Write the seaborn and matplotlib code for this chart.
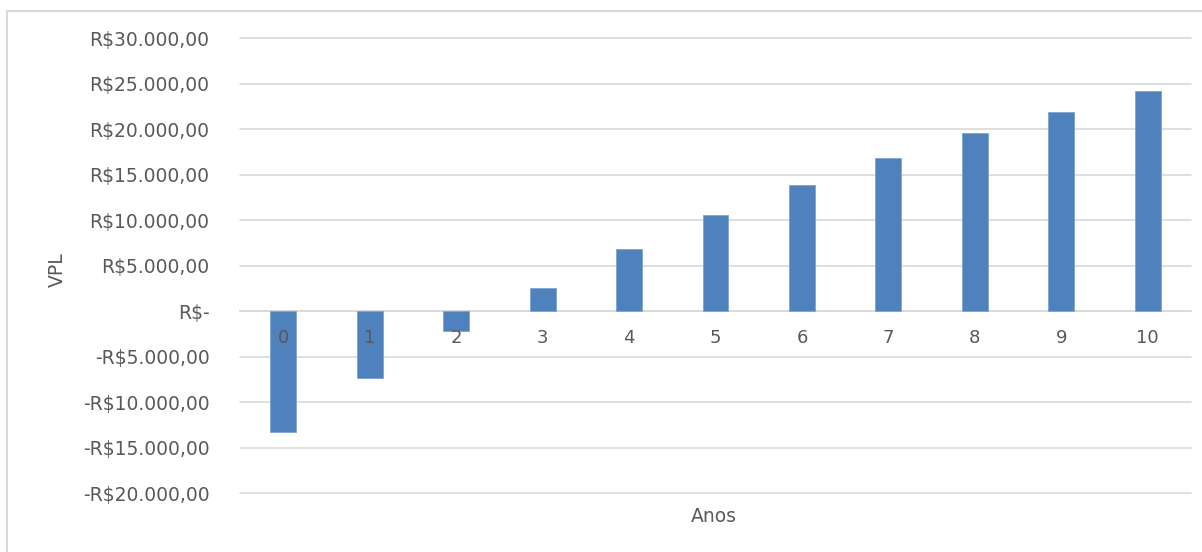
import matplotlib
matplotlib.use("Agg")
import matplotlib.pyplot as plt
from matplotlib.patches import Rectangle
from matplotlib.ticker import FuncFormatter, MultipleLocator
import seaborn as sns
import pandas as pd

# Net present value (VPL) by year
anos = ["0", "1", "2", "3", "4", "5", "6", "7", "8", "9", "10"]
vpl = [-13300, -7400, -2200, 2600, 6800, 10570, 13930, 16870, 19580, 21890, 24230]

df = pd.DataFrame({"Anos": anos, "VPL": vpl})

sns.set_theme(style="white")
plt.rcParams["font.family"] = ["DejaVu Sans"]

text_color = "#595959"
grid_color = "#d9d9d9"
bar_color = "#4f81bd"

fig = plt.figure(figsize=(12.02, 5.52), dpi=100)
ax = fig.add_axes([240 / 1202, 1 - 493 / 552, (1191 - 240) / 1202, (493 - 38.5) / 552])

sns.barplot(data=df, x="Anos", y="VPL", order=anos, color=bar_color,
            width=0.3, saturation=1, ax=ax, zorder=3,
            edgecolor="#7fa3d4", linewidth=0.6)

ax.set_ylim(-20000, 30000)
ax.set_xlim(-0.5, len(anos) - 0.5)
ax.yaxis.set_major_locator(MultipleLocator(5000))


def brl(v, pos=None):
    v = int(round(v))
    if v == 0:
        return "R$-"
    s = f"{abs(v):,}".replace(",", ".") + ",00"
    return ("-R$" if v < 0 else "R$") + s


ax.yaxis.set_major_formatter(FuncFormatter(brl))
ax.grid(axis="y", color=grid_color, linewidth=1.2, zorder=0)
ax.grid(axis="x", visible=False)
for side in ["top", "right", "left"]:
    ax.spines[side].set_visible(False)
ax.spines["bottom"].set_position(("data", 0))
ax.spines["bottom"].set_color(grid_color)
ax.spines["bottom"].set_linewidth(1.2)
ax.spines["bottom"].set_zorder(1)

# category labels sit just under the zero line, drawn over the bars
ax.xaxis.set_zorder(5)

ax.tick_params(axis="y", length=0, pad=22, labelsize=13.5, labelcolor=text_color)
ax.tick_params(axis="x", length=0, pad=13, labelsize=13, labelcolor=text_color)

ax.set_xlabel("")
ax.set_ylabel("")
fig.text(714 / 1202, 1 - 516 / 552, "Anos", ha="center", va="center",
         fontsize=13.5, color=text_color)
fig.text(57 / 1202, 1 - 270 / 552, "VPL", ha="center", va="center",
         rotation=90, fontsize=13.5, color=text_color)

fig.canvas.draw()
for line in ax.get_ygridlines():
    line.set_clip_on(False)

# chart area frame
fig.add_artist(Rectangle((7 / 1202, -0.1), 1.2, 1.1 - 11 / 552,
                         transform=fig.transFigure, fill=False,
                         edgecolor=grid_color, linewidth=1.5))

fig.savefig("out.png", dpi=100)
